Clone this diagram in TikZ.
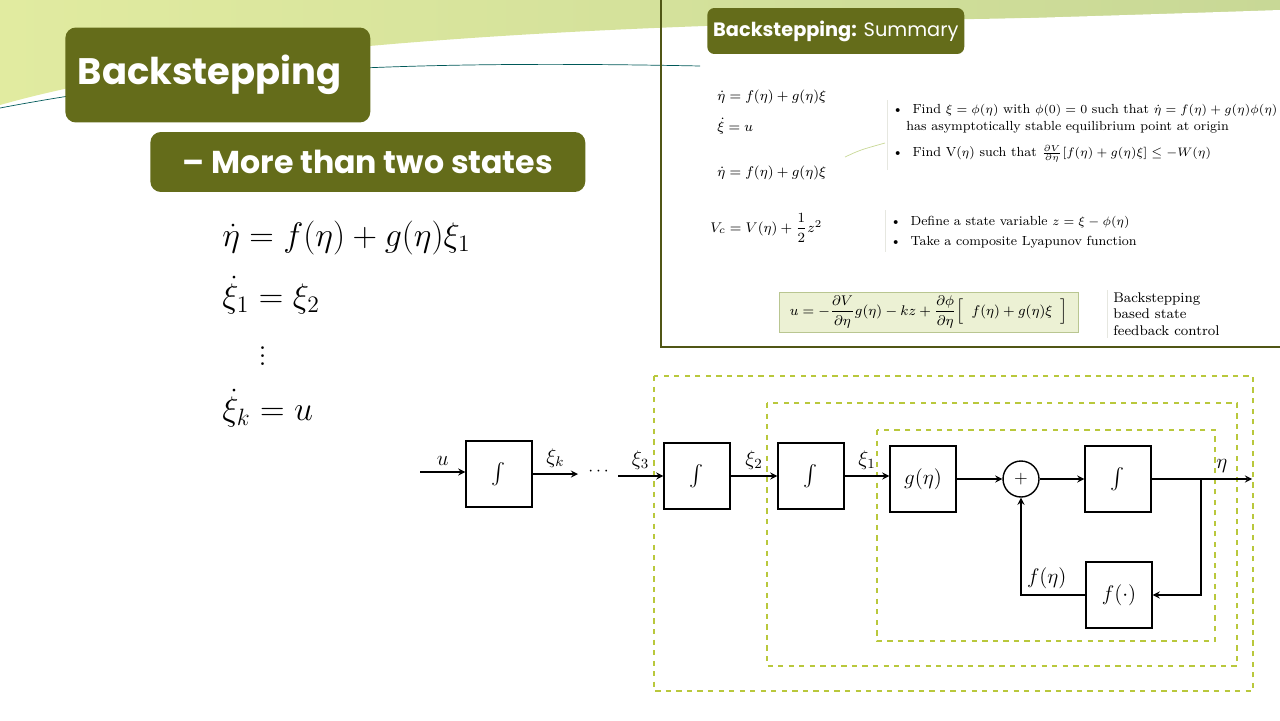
\documentclass[tikz,border=0pt]{standalone}
\usepackage{amsmath,amssymb}
\usepackage{fontspec}
\newfontfamily\titlefont{Poppins}
\usetikzlibrary{positioning}
\definecolor{olive}{RGB}{100,108,26}
\definecolor{dashgreen}{RGB}{185,200,60}
\definecolor{bandgreen}{RGB}{200,216,150}
\definecolor{bandyellow}{RGB}{225,235,160}
\definecolor{boxfill}{RGB}{236,241,212}

\begin{document}
\begin{tikzpicture}[x=0.02cm,y=-0.02cm,
  block/.style={rectangle,draw,thick,minimum width=1.32cm,minimum height=1.32cm,font=\large},
  sumnode/.style={circle,draw,thick,minimum size=0.72cm,inner sep=0pt},
  sig/.style={->,thick,>=stealth},
  frame/.style={dashed,thick,dashgreen},
  title/.style={rounded corners=6pt,fill=olive,text=white,font=\titlefont\bfseries,anchor=west},
  small/.style={font=\fontsize{8}{9.5}\selectfont,anchor=west,inner sep=0pt},
  bigeq/.style={font=\LARGE,scale=1.12,transform shape,anchor=west,inner sep=0pt}]
\useasboundingbox (0,0) rectangle (1280,720);

% background band
\shade[left color=bandyellow,right color=bandgreen]
      (0,0) -- (1280,0) -- (1280,15) .. controls (900,20) and (300,20) .. (0,105) -- cycle;
\fill[white] (0,112) .. controls (300,30) and (700,30) .. (1280,10) -- (1280,25)
      .. controls (800,50) and (300,60) .. (0,112) -- cycle;
\draw[teal!70!black,thin] (0,108) .. controls (200,70) and (400,60) .. (700,66);

% titles
\node[title,minimum width=6.1cm,minimum height=1.9cm,font=\titlefont\bfseries\fontsize{21}{24}\selectfont,text width=5.6cm] (ttl) at (65,75) {Backstepping};
\node[title,minimum width=8.7cm,minimum height=1.2cm,font=\titlefont\bfseries\fontsize{18}{21}\selectfont] (sub) at (150,162) {– More than two states};

% left equations
\node[bigeq] (e1) at (222,238) {$\dot\eta = f(\eta) + g(\eta)\xi_1$};
\node[bigeq] (e2) at (222,295) {$\dot\xi_1 = \xi_2$};
\node[bigeq] (e3) at (258,350) {$\vdots$};
\node[bigeq] (e4) at (222,408) {$\dot\xi_k = u$};

% summary panel
\draw[olive!80!black,line width=1.5pt] (661,0) -- (661,347) -- (1280,347);
\node[title,rounded corners=4pt,minimum height=0.92cm,font=\titlefont\fontsize{11}{13}\selectfont] (stl) at (707,31) {\textbf{Backstepping:} Summary};
\node[small] (s1) at (717,97) {$\dot\eta = f(\eta) + g(\eta)\xi$};
\node[small] (s2) at (717,126) {$\dot\xi = u$};
\node[small] (s3) at (717,173) {$\dot\eta = f(\eta) + g(\eta)\xi$};
\node[small] (s4) at (710,228) {$V_c = V(\eta) + \dfrac{1}{2}z^2$};
\draw[boxfill!60!gray!40] (887,100) -- (887,170) (885,210) -- (885,252) (1107,290) -- (1107,338);
\draw[bandgreen] (845,157) .. controls (860,150) .. (885,143);
\node[small,font=\fontsize{7.5}{9}\selectfont] (b1) at (892,110) {\textbullet\ \ Find $\xi=\phi(\eta)$ with $\phi(0)=0$ such that $\dot\eta=f(\eta)+g(\eta)\phi(\eta)$};
\node[small,font=\fontsize{7.5}{9}\selectfont] (b1b) at (906,127) {has asymptotically stable equilibrium point at origin};
\node[small,font=\fontsize{7.5}{9}\selectfont] (b2) at (892,154) {\textbullet\ \ Find V($\eta$) such that $\frac{\partial V}{\partial\eta}[f(\eta)+g(\eta)\xi]\le -W(\eta)$};
\node[small,font=\fontsize{7.5}{9}\selectfont] (b3) at (890,222) {\textbullet\ \ Define a state variable $z=\xi-\phi(\eta)$};
\node[small,font=\fontsize{7.5}{9}\selectfont] (b4) at (890,242) {\textbullet\ \ Take a composite Lyapunov function};
\node[small,draw=bandgreen!80!gray,fill=boxfill,minimum width=5.98cm,minimum height=0.8cm,inner sep=2pt] (ctl) at (779,312)
      {$u=-\dfrac{\partial V}{\partial\eta}g(\eta)-kz+\dfrac{\partial\phi}{\partial\eta}\Big[\;\; f(\eta)+g(\eta)\xi\;\;\Big]$};
\node[small,align=left] (ctx) at (1113,314) {Backstepping\\based state\\feedback control};

% dashed frames
\draw[frame] (654,376) rectangle (1253,691);
\draw[frame] (767,403) rectangle (1237,666);
\draw[frame] (877,430) rectangle (1215,641);

% block diagram
\coordinate (uin) at (420,472);
\node[block] (int1) at (499,474) {$\int$};
\coordinate (xk) at (578,474);
\node (dots) at (600,472) {$\cdots$};
\coordinate (x3) at (618,476);
\node[block] (int2) at (697,476) {$\int$};
\node[block] (int3) at (811,476) {$\int$};
\node[block] (gblk) at (923,479) {$g(\eta)$};
\node[sumnode] (sum) at (1021,479) {$+$};
\node[block] (int4) at (1118,479) {$\int$};
\coordinate (eta) at (1252,479);
\coordinate (br) at (1201,479);
\node[block] (fblk) at (1119,595) {$f(\cdot)$};

\draw[sig] (uin) -- node[above] {\large$u$} (uin -| int1.west);
\draw[sig] (int1) -- node[above] {\large$\xi_k$} (xk);
\draw[sig] (x3) -- node[above] {\large$\xi_3$} (int2);
\draw[sig] (int2) -- node[above] {\large$\xi_2$} (int3);
\draw[sig] (int3) -- node[above] {\large$\xi_1$} (int3 -| gblk.west);
\draw[sig] (gblk) -- (sum);
\draw[sig] (sum) -- (int4);
\draw[sig] (int4) -- node[above,pos=0.7] {\large$\eta$} (eta);
\draw[sig] (br) |- (fblk);
\draw[sig] (fblk) -| node[above,pos=0.3] {\large$f(\eta)$} (sum);
\end{tikzpicture}
\end{document}
